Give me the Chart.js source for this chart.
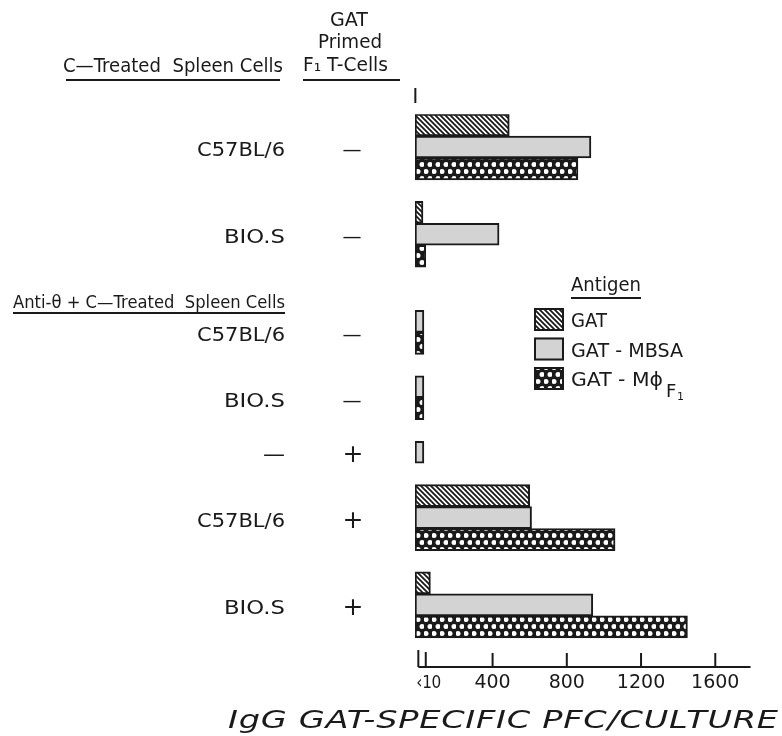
<!DOCTYPE html>
<html>
<head>
<meta charset="utf-8">
<script src="https://cdn.jsdelivr.net/npm/chart.js@4.4.1/dist/chart.umd.min.js"></script>
<style>
  html, body { margin: 0; padding: 0; background: #fff; }
  canvas { display: block; }
</style>
</head>
<body>
<canvas id="grafico" width="782" height="736"></canvas>
<script>
// rows of the figure (top to bottom)
const categories = ['C57BL/6', 'BIO.S', 'C57BL/6', 'BIO.S', '—', 'C57BL/6', 'BIO.S'];
const primed = ['—', '—', '—', '—', '+', '+', '+'];

// IgG GAT-specific PFC/culture, per antigen
const gat     = [490, 25, null, null, null, 600, 65];
const gatMbsa = [930, 435, 30, 30, 30, 610, 940];
const gatMphi = [860, 40, 30, 30, null, 1060, 1450];

const xTicks = [400, 800, 1200, 1600];

// vertical layout of the rows (uneven because of the section header)
const rowSlot = [0, 8, 17, 23, 28, 34, 42];

const INK = '#1a1a1a';
const FONT = '"DejaVu Sans"';

const ctx = document.getElementById('grafico').getContext('2d');

function padraoListrado() {
  const t = document.createElement('canvas');
  t.width = 5; t.height = 5;
  const g = t.getContext('2d');
  g.fillStyle = '#fff';
  g.fillRect(0, 0, 5, 5);
  g.strokeStyle = INK;
  g.lineWidth = 1.8;
  g.beginPath();
  g.moveTo(-1, -1); g.lineTo(6, 6);
  g.moveTo(-1, 4); g.lineTo(1, 6);
  g.moveTo(4, -1); g.lineTo(6, 1);
  g.stroke();
  return ctx.createPattern(t, 'repeat');
}

function padraoBolinhas() {
  const t = document.createElement('canvas');
  t.width = 8; t.height = 14;
  const g = t.getContext('2d');
  g.fillStyle = INK;
  g.fillRect(0, 0, 8, 14);
  g.fillStyle = '#fff';
  [[2, 3.5], [6, 10.5]].forEach(([cx, cy]) => {
    g.beginPath();
    g.arc(cx, cy, 2.5, 0, Math.PI * 2);
    g.fill();
  });
  return ctx.createPattern(t, 'repeat');
}

const fundos = [padraoListrado(), '#d3d3d3', padraoBolinhas()];

// draws text; when a width is given the lettering is widened (stretch, then spacing)
function texto(c, s, x, base, size, opts = {}) {
  c.save();
  c.font = (opts.italic ? 'italic ' : '') + size + 'px ' + FONT;
  c.fillStyle = INK;
  c.textBaseline = 'alphabetic';
  c.textAlign = 'left';
  c.letterSpacing = '0px';
  let w = c.measureText(s).width;
  let sx = 1;
  const n = [...s].length;
  if (opts.width) {
    sx = Math.min(Math.max(opts.width / w, 0.85), opts.maxStretch || 1.18);
    if (n > 1) {
      const resto = opts.width / sx - w;
      c.letterSpacing = (resto / (n - 1)) + 'px';
    }
    w = opts.width / sx;
  }
  const largura = w * sx;
  let x0 = x;
  if (opts.align === 'right') x0 = x - largura;
  else if (opts.align === 'center') x0 = x - largura / 2;
  c.translate(x0, base);
  c.scale(sx, 1);
  c.fillText(s, 0, 0);
  c.restore();
}

function linha(c, x1, y1, x2, y2, lw = 2) {
  c.save();
  c.strokeStyle = INK;
  c.lineWidth = lw;
  c.beginPath();
  c.moveTo(x1, y1);
  c.lineTo(x2, y2);
  c.stroke();
  c.restore();
}

const larguraRotulo = { 'C57BL/6': 88, 'BIO.S': 61 };

const desenhoTexto = {
  id: 'desenhoTexto',
  afterDraw(chart) {
    const c = chart.ctx;
    const xs = chart.scales.x, ys = chart.scales.y;
    const x0 = xs.getPixelForValue(0);
    const base = chart.chartArea.bottom;

    // column headers
    texto(c, 'GAT', 349, 26, 19, { align: 'center', width: 38 });
    texto(c, 'Primed', 350, 48, 19, { align: 'center', width: 64 });
    texto(c, 'F₁ T-Cells', 345.5, 71, 19, { align: 'center', width: 85 });
    texto(c, 'C—Treated  Spleen Cells', 63, 72, 19, { width: 220 });
    linha(c, 66, 80, 280, 80);
    linha(c, 303, 80, 400, 80);
    linha(c, x0 - 3, 88, x0 - 3, 103);
    texto(c, 'Anti-θ + C—Treated  Spleen Cells', 13, 308, 18, { width: 272 });
    linha(c, 13, 313, 285, 313);

    // row labels
    categories.forEach((cat, i) => {
      const y = ys.getPixelForValue(rowSlot[i]);
      if (cat === '—') {
        texto(c, cat, 285, y + 9, 22, { align: 'right' });
      } else {
        texto(c, cat, 285, y + 9, 20, { align: 'right', width: larguraRotulo[cat] });
      }
      if (primed[i] === '+') texto(c, '+', 353, y + 10, 25, { align: 'center' });
      else texto(c, '—', 352, y + 9, 19, { align: 'center' });
    });

    // legend
    texto(c, 'Antigen', 606, 291, 19, { align: 'center', width: 70 });
    linha(c, 571, 298, 641, 298);
    const nomes = ['GAT', 'GAT - MBSA', 'GAT - Mϕ'];
    const largNomes = [36, 112, 92];
    chart.data.datasets.forEach((ds, k) => {
      const top = 308 + k * 29.5;
      c.save();
      c.fillStyle = ds.backgroundColor;
      c.fillRect(534, top, 30, 23);
      c.strokeStyle = INK;
      c.lineWidth = 2;
      c.strokeRect(535, top + 1, 28, 21);
      c.restore();
      texto(c, nomes[k], 571, top + 19, 20, { width: largNomes[k] });
    });
    texto(c, 'F', 666, 397, 18);
    texto(c, '1', 677, 400, 11);

    // x axis (ticks point up, broken near zero)
    linha(c, x0, base, xs.getPixelForValue(1790), base);
    linha(c, x0, base - 17, x0, base);
    const p10 = xs.getPixelForValue(40);
    linha(c, p10, base - 15, p10, base);
    texto(c, '‹10', x0 - 2, 688, 18, { width: 25 });
    xTicks.forEach(v => {
      const p = xs.getPixelForValue(v);
      linha(c, p, base - 14, p, base);
      texto(c, String(v), p, 688, 19, { align: 'center' });
    });
    texto(c, 'IgG GAT-SPECIFIC PFC/CULTURE', 228, 728, 24,
      { italic: true, width: 550, maxStretch: 1.4 });
  }
};

function serie(label, valores, k) {
  return {
    label: label,
    data: valores.map((v, i) => ({ x: v, y: rowSlot[i] })),
    backgroundColor: fundos[k],
    borderColor: INK,
    borderWidth: 2,
    borderSkipped: false,
    barThickness: 22,
    base: -18
  };
}

const config = {
  type: 'bar',
  data: {
    datasets: [
      serie('GAT', gat, 0),
      serie('GAT - MBSA', gatMbsa, 1),
      serie('GAT - MϕF1', gatMphi, 2)
    ]
  },
  options: {
    indexAxis: 'y',
    responsive: false,
    animation: false,
    skipNull: true,
    layout: { padding: { left: 415, right: 29.6, top: 114.3, bottom: 69 } },
    scales: {
      x: { type: 'linear', min: -18, max: 1800, offset: false, display: false },
      y: { type: 'linear', min: -3, max: 47.7, reverse: true, offset: false, display: false }
    },
    plugins: {
      legend: { display: false },
      tooltip: { enabled: false }
    }
  },
  plugins: [desenhoTexto]
};

const grafico = new Chart(ctx, config);
</script>
</body>
</html>
